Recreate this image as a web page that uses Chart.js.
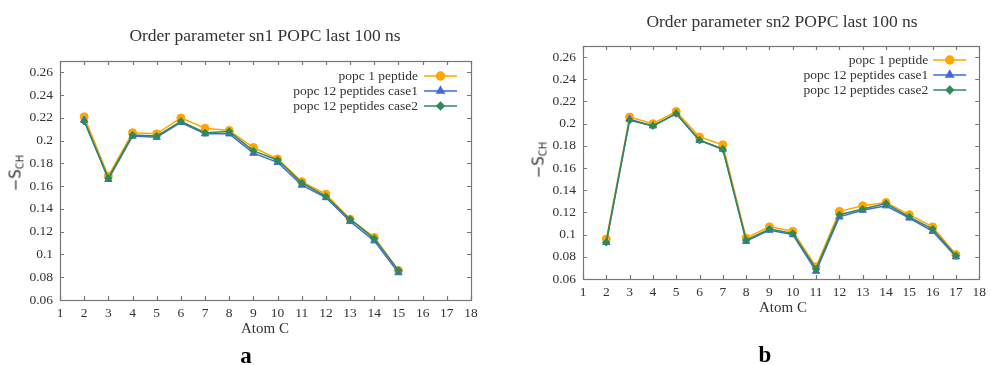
<!DOCTYPE html>
<html>
<head>
<meta charset="utf-8">
<script src="https://cdn.jsdelivr.net/npm/chart.js@4/dist/chart.umd.min.js"></script>
<style>
  html, body { margin:0; padding:0; background:#fff; width:991px; height:365px; overflow:hidden; }
  #wrap { position:relative; width:991px; height:365px; font-family:"Liberation Serif", serif; color:#333; }
  canvas { position:absolute; top:0; }
  .t { position:absolute; white-space:nowrap; transform:translate(-50%,-50%); }
  .title { font-size:17.5px; color:#333; }
  .xl { font-size:15px; color:#333; }
  .yl { font-family:"DejaVu Sans", sans-serif; font-size:15px; color:#333; transform:translate(-50%,-50%) rotate(-90deg); }
  .yl sub { font-size:10px; vertical-align:-3px; }
  .pl { font-size:23px; font-weight:bold; color:#000; }
</style>
</head>
<body>
<div id="wrap">
  <canvas id="c1" width="495" height="365" style="left:0px"></canvas>
  <canvas id="c2" width="496" height="365" style="left:495px"></canvas>
  <div class="t title" style="left:265px; top:35px">Order parameter sn1 POPC last 100 ns</div>
  <div class="t title" style="left:782px; top:21px">Order parameter sn2 POPC last 100 ns</div>
  <div class="t xl" style="left:265px; top:328px">Atom C</div>
  <div class="t xl" style="left:783px; top:307px">Atom C</div>
  <div class="t yl" style="left:16px; top:173px">−S<sub>CH</sub></div>
  <div class="t yl" style="left:539px; top:160px">−S<sub>CH</sub></div>
  <div class="t pl" style="left:246px; top:356px">a</div>
  <div class="t pl" style="left:765px; top:355px">b</div>
</div>
<script>
// ---- data ----
const seriesNames = ["popc 1 peptide", "popc 12 peptides case1", "popc 12 peptides case2"];
const atomsSn1 = [2,3,4,5,6,7,8,9,10,11,12,13,14,15];
const sn1Popc1  = [0.221,0.169,0.207,0.206,0.220,0.211,0.209,0.194,0.184,0.164,0.153,0.131,0.115,0.086];
const sn1Case1  = [0.218,0.166,0.204,0.203,0.216,0.206,0.206,0.189,0.181,0.161,0.150,0.129,0.112,0.084];
const sn1Case2  = [0.217,0.167,0.205,0.204,0.217,0.207,0.208,0.191,0.183,0.163,0.151,0.131,0.114,0.086];
const atomsSn2 = [2,3,4,5,6,7,8,9,10,11,12,13,14,15,16,17];
const sn2Popc1  = [0.096,0.206,0.200,0.211,0.188,0.181,0.097,0.107,0.103,0.071,0.121,0.126,0.129,0.118,0.107,0.082];
const sn2Case1  = [0.093,0.204,0.198,0.209,0.185,0.177,0.094,0.104,0.100,0.067,0.116,0.122,0.126,0.115,0.103,0.080];
const sn2Case2  = [0.093,0.203,0.198,0.209,0.185,0.177,0.095,0.105,0.101,0.069,0.118,0.123,0.128,0.116,0.105,0.081];
const yTickValues = [0.06,0.08,0.10,0.12,0.14,0.16,0.18,0.20,0.22,0.24,0.26];
const xTickValues = [1,2,3,4,5,6,7,8,9,10,11,12,13,14,15,16,17,18];
const yRange = [0.06, 0.27];
const xRange = [1, 18];

// ---- styles ----
const colors = ["#ffa500", "#4169e1", "#2e8b57"];
const markers = ["circle", "triangle", "rectRot"];
const radii = [4, 4.2, 3.6];
const drawOrder = [2, 1, 0];
const FONT = "'Liberation Serif', serif";

function makeDatasets(xs, lists) {
  return lists.map((ys, i) => ({
    label: seriesNames[i],
    data: xs.map((x, k) => ({x: x, y: ys[k]})),
    borderColor: colors[i],
    backgroundColor: colors[i],
    pointStyle: markers[i],
    pointRadius: radii[i],
    pointHoverRadius: radii[i],
    borderWidth: 1.5,
    pointBorderWidth: 1,
    order: drawOrder[i],
    tension: 0
  }));
}

const boxPlugin = {
  id: 'gnuBox',
  afterDraw(chart, args, opts) {
    const ctx = chart.ctx, a = chart.chartArea;
    const xs = chart.scales.x, ys = chart.scales.y;
    ctx.save();
    ctx.strokeStyle = '#777';
    ctx.lineWidth = 1.2;
    ctx.strokeRect(Math.round(a.left)+0.5, Math.round(a.top)+0.5, Math.round(a.right-a.left), Math.round(a.bottom-a.top));
    const L = 4;
    ctx.beginPath();
    xTickValues.forEach(v => {
      const p = Math.round(xs.getPixelForValue(v)) + 0.5;
      ctx.moveTo(p, a.bottom); ctx.lineTo(p, a.bottom - L);
      ctx.moveTo(p, a.top); ctx.lineTo(p, a.top + L);
    });
    yTickValues.forEach(v => {
      const p = Math.round(ys.getPixelForValue(v)) + 0.5;
      ctx.moveTo(a.left, p); ctx.lineTo(a.left + L, p);
      ctx.moveTo(a.right, p); ctx.lineTo(a.right - L, p);
    });
    ctx.stroke();
    // legend (gnuplot style, inside top-right)
    ctx.font = "13.5px " + FONT;
    ctx.textAlign = 'right';
    ctx.textBaseline = 'middle';
    chart.data.datasets.forEach((ds, i) => {
      const y = a.top + opts.rowTop + i * 15;
      ctx.fillStyle = '#333';
      ctx.fillText(ds.label, a.right - opts.textGap, y);
      ctx.strokeStyle = ds.borderColor;
      ctx.lineWidth = 1.5;
      ctx.beginPath();
      ctx.moveTo(a.right - opts.lineStart, y);
      ctx.lineTo(a.right - opts.lineEnd, y);
      ctx.stroke();
      ctx.fillStyle = ds.backgroundColor;
      Chart.helpers.drawPoint(ctx, {pointStyle: ds.pointStyle, radius: ds.pointRadius, borderWidth: 1}, (a.right - opts.lineStart + a.right - opts.lineEnd) / 2, y);
    });
    ctx.restore();
  }
};

function fmt(v) { return String(parseFloat(Number(v).toFixed(2))); }

function makeChart(id, xs, lists, cfg) {
  return new Chart(document.getElementById(id), {
    type: 'line',
    data: { datasets: makeDatasets(xs, lists) },
    plugins: [boxPlugin],
    options: {
      responsive: false,
      animation: false,
      devicePixelRatio: 1,
      layout: { padding: cfg.padding },
      plugins: {
        legend: { display: false },
        tooltip: { enabled: false },
        title: { display: false },
        gnuBox: cfg.legend
      },
      scales: {
        x: {
          type: 'linear', min: xRange[0], max: xRange[1],
          afterBuildTicks: s => { s.ticks = xTickValues.map(v => ({value: v})); },
          afterFit: s => { s.height = 20; },
          grid: { display: false, drawTicks: false },
          border: { display: false },
          ticks: { padding: 5, color: '#333', font: { family: FONT, size: 13.5 }, callback: v => String(v), maxRotation: 0, autoSkip: false }
        },
        y: {
          type: 'linear', min: yRange[0], max: yRange[1],
          afterBuildTicks: s => { s.ticks = yTickValues.map(v => ({value: v})); },
          afterFit: s => { s.width = cfg.yWidth; },
          grid: { display: false, drawTicks: false },
          border: { display: false },
          ticks: { padding: 7, color: '#333', font: { family: FONT, size: 13.5 }, callback: v => fmt(v), autoSkip: false }
        }
      }
    }
  });
}

makeChart('c1', atomsSn1, [sn1Popc1, sn1Case1, sn1Case2], {
  padding: { left: 0, right: 24, top: 61, bottom: 45 },
  yWidth: 60,
  legend: { rowTop: 15, textGap: 53, lineStart: 47, lineEnd: 14 }
});
makeChart('c2', atomsSn2, [sn2Popc1, sn2Case1, sn2Case2], {
  padding: { left: 0, right: 9, top: 46, bottom: 66 },
  yWidth: 88,
  legend: { rowTop: 14, textGap: 51, lineStart: 46, lineEnd: 13 }
});
</script>
</body>
</html>
